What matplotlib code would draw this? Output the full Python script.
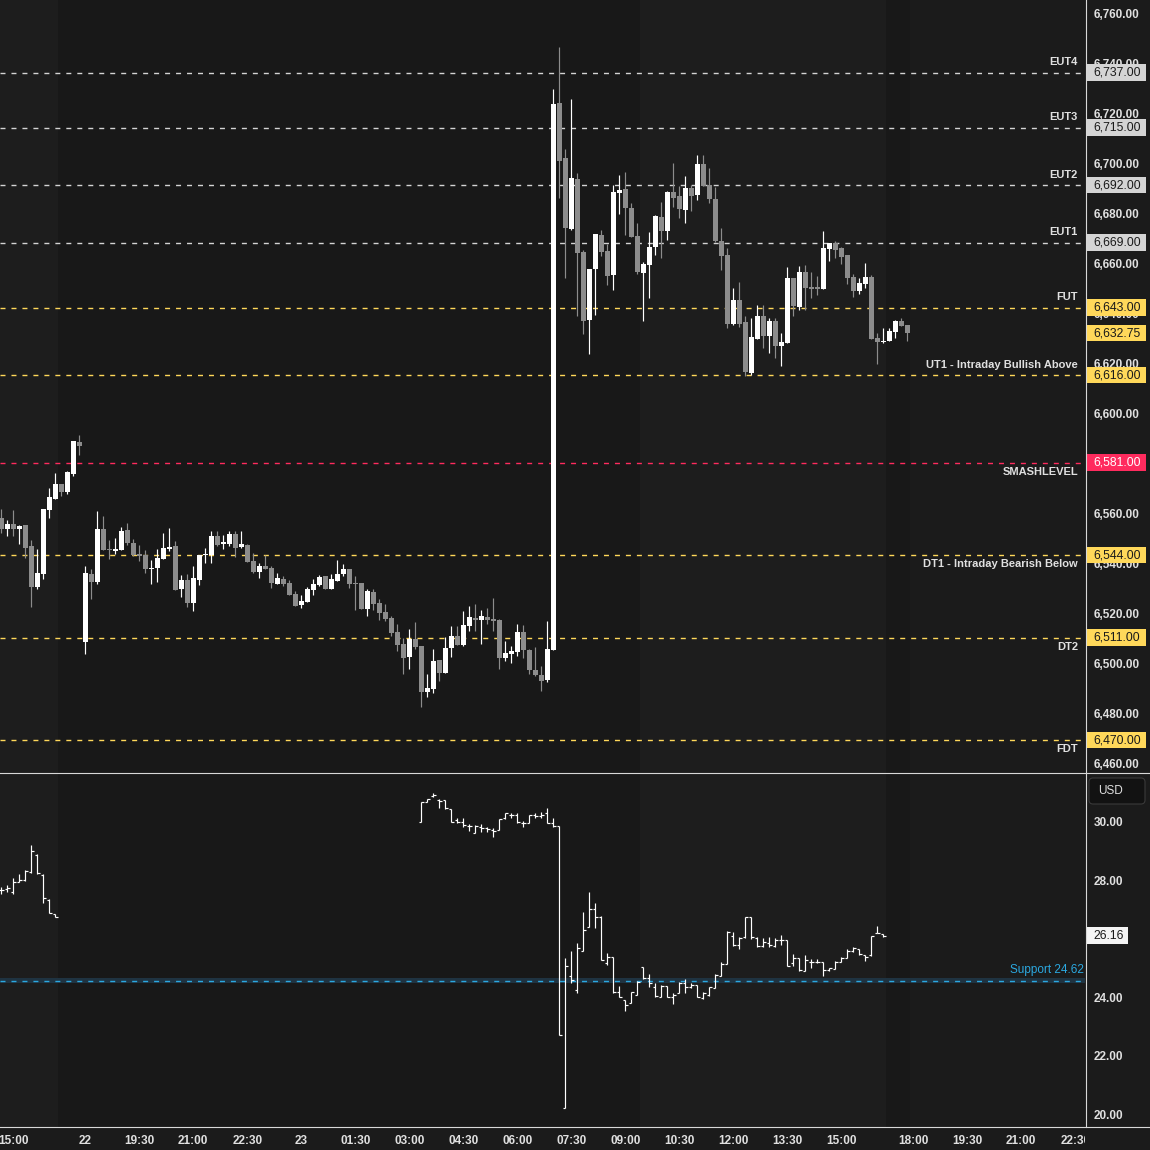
import numpy as np
import matplotlib
matplotlib.use("Agg")
import matplotlib.pyplot as plt
import matplotlib.transforms as mtransforms
from matplotlib.patches import Rectangle, FancyBboxPatch
from matplotlib.lines import Line2D

plt.rcParams['font.family'] = ['Liberation Sans', 'DejaVu Sans']
plt.rcParams['lines.scale_dashes'] = False

# ---- ES 10 minute candles (bar 0 = 18:00 session open) ----
es_open = [6558.8, 6554.5, 6556.4, 6554.5, 6556.0, 6547.6, 6531.3, 6536.5, 6562.1, 6566.5, 6572.4, 6569.3, 6576.5, 6589.2,
           6509.3, 6536.4, 6533.2, 6554.4, 6546.4, 6545.8, 6546.1, 6554.0, 6548.8, 6544.4,
           6544.0, 6538.5, 6538.9, 6542.5, 6546.5, 6547.6, 6530.5, 6534.0, 6524.9, 6534.1,
           6544.1, 6544.1, 6551.6, 6548.6, 6548.5, 6552.4, 6547.3, 6548.0, 6541.6, 6537.3,
           6539.6, 6538.8, 6532.5, 6534.4, 6532.8, 6528.4, 6524.0, 6525.3, 6530.1, 6532.1,
           6535.6, 6530.5, 6533.7, 6536.5, 6538.4, 6532.8, 6532.8, 6522.5, 6529.2, 6524.8,
           6521.2, 6518.8, 6513.2, 6508.4, 6503.2, 6510.4, 6507.6, 6489.2, 6490.4, 6502.0,
           6496.8, 6506.8, 6511.6, 6508.0, 6515.6, 6518.8, 6518.0, 6519.2, 6518.4, 6518.0,
           6502.8, 6504.4, 6505.2, 6513.2, 6506.0, 6498.0, 6496.0, 6494.0, 6506.0, 6724.8,
           6702.8, 6674.4, 6694.4, 6665.2, 6638.1, 6658.5, 6672.0, 6665.6, 6656.1, 6688.9,
           6690.4, 6682.8, 6671.6, 6656.9, 6660.1, 6667.3, 6679.2, 6673.7, 6689.2, 6687.6,
           6682.1, 6690.8, 6688.1, 6700.4, 6692.0, 6686.4, 6669.6, 6664.0, 6636.5, 6646.0,
           6637.2, 6616.8, 6630.4, 6639.6, 6631.6, 6637.6, 6627.6, 6628.8, 6654.8, 6643.2,
           6657.2, 6650.8, 6650.8, 6650.4, 6666.4, 6668.8, 6666.8, 6664.0, 6655.2, 6649.6,
           6652.4, 6655.2, 6630.8, 6629.2, 6629.6, 6633.2, 6637.6, 6636.0]
es_high = [6562.4, 6558.0, 6562.0, 6556.0, 6556.0, 6550.0, 6546.4, 6562.4, 6570.8, 6576.8, 6572.4, 6577.6, 6589.6, 6592.0,
           6539.6, 6538.4, 6561.6, 6559.6, 6550.0, 6550.8, 6555.2, 6556.8, 6550.4, 6548.0,
           6546.0, 6542.0, 6546.4, 6552.8, 6554.8, 6549.6, 6536.0, 6536.4, 6539.6, 6544.0,
           6546.8, 6553.6, 6553.6, 6552.0, 6553.6, 6553.6, 6553.6, 6548.4, 6544.8, 6540.8,
           6544.0, 6539.6, 6536.8, 6535.6, 6534.0, 6529.6, 6528.0, 6531.2, 6534.4, 6536.0,
           6535.6, 6536.4, 6542.0, 6540.4, 6538.4, 6535.6, 6532.8, 6530.4, 6530.4, 6526.4,
           6524.4, 6519.6, 6516.4, 6510.8, 6514.4, 6517.2, 6507.6, 6496.4, 6506.4, 6502.0,
           6511.2, 6515.6, 6515.6, 6521.6, 6523.6, 6524.4, 6522.0, 6522.8, 6526.8, 6518.4,
           6509.6, 6507.6, 6516.4, 6516.0, 6506.4, 6507.2, 6499.6, 6517.6, 6730.4, 6747.2,
           6706.4, 6726.4, 6696.8, 6666.0, 6658.5, 6672.4, 6674.0, 6668.4, 6692.0, 6696.0,
           6697.2, 6684.8, 6676.8, 6661.2, 6673.2, 6680.0, 6685.2, 6689.6, 6700.8, 6691.6,
           6695.6, 6692.0, 6704.0, 6704.0, 6698.8, 6691.3, 6674.8, 6666.8, 6650.9, 6653.2,
           6639.6, 6638.8, 6644.0, 6644.0, 6638.8, 6638.8, 6632.8, 6659.2, 6654.8, 6659.6,
           6660.0, 6657.2, 6655.6, 6673.6, 6668.8, 6669.6, 6667.2, 6664.0, 6656.4, 6654.8,
           6660.8, 6656.0, 6632.8, 6634.8, 6634.8, 6638.0, 6638.8, 6636.0]
es_low = [6553.0, 6551.7, 6551.7, 6548.5, 6543.0, 6523.3, 6530.5, 6534.5, 6558.9, 6566.5, 6567.7, 6568.5, 6575.7, 6584.1,
          6504.5, 6526.5, 6532.5, 6546.1, 6542.5, 6544.5, 6546.1, 6548.1, 6543.7, 6541.7,
          6536.9, 6532.5, 6533.3, 6542.5, 6545.7, 6530.1, 6527.3, 6523.3, 6521.7, 6532.1,
          6540.9, 6540.9, 6547.6, 6546.5, 6547.7, 6543.3, 6546.9, 6541.3, 6536.9, 6534.9,
          6538.5, 6530.9, 6532.5, 6531.7, 6528.1, 6523.7, 6522.9, 6525.3, 6528.1, 6531.7,
          6530.5, 6530.5, 6533.7, 6535.7, 6530.9, 6522.1, 6522.5, 6519.7, 6522.1, 6518.0,
          6517.6, 6511.6, 6505.6, 6496.4, 6498.4, 6506.4, 6483.2, 6487.2, 6488.8, 6493.6,
          6496.8, 6503.2, 6508.0, 6507.6, 6513.6, 6513.6, 6508.4, 6516.4, 6513.6, 6498.4,
          6501.6, 6500.8, 6503.6, 6502.8, 6496.4, 6495.6, 6489.6, 6493.2, 6506.0, 6686.9,
          6654.9, 6674.0, 6639.7, 6632.5, 6624.5, 6640.1, 6663.7, 6652.1, 6650.1, 6680.5,
          6672.1, 6671.3, 6656.5, 6637.7, 6646.9, 6664.1, 6662.9, 6670.1, 6683.3, 6678.9,
          6676.9, 6681.7, 6686.1, 6691.7, 6684.9, 6669.3, 6658.1, 6634.9, 6636.1, 6635.3,
          6615.6, 6616.0, 6630.4, 6626.8, 6624.8, 6622.8, 6619.6, 6628.8, 6639.6, 6642.0,
          6642.0, 6646.8, 6648.0, 6650.4, 6661.6, 6662.8, 6660.4, 6652.4, 6647.2, 6648.4,
          6650.8, 6630.4, 6620.4, 6628.8, 6629.6, 6630.8, 6635.6, 6629.6]
es_close = [6554.5, 6556.4, 6554.5, 6555.6, 6546.9, 6531.3, 6536.8, 6562.4, 6567.2, 6572.4, 6569.3, 6577.2, 6589.6, 6587.7,
            6536.8, 6533.2, 6554.4, 6546.1, 6546.1, 6546.0, 6553.6, 6549.0, 6544.1, 6543.6,
            6538.5, 6538.8, 6542.8, 6546.8, 6547.2, 6530.1, 6534.0, 6524.9, 6534.8, 6544.0,
            6544.4, 6551.6, 6548.1, 6548.8, 6552.4, 6546.9, 6548.4, 6541.3, 6537.3, 6539.6,
            6538.5, 6532.9, 6534.8, 6532.5, 6528.1, 6523.7, 6525.6, 6530.4, 6532.4, 6535.2,
            6530.5, 6534.4, 6536.4, 6538.4, 6532.5, 6532.5, 6522.5, 6529.6, 6524.5, 6520.9,
            6518.4, 6512.8, 6508.0, 6502.8, 6510.4, 6507.2, 6489.2, 6490.8, 6501.6, 6496.8,
            6506.8, 6511.6, 6508.0, 6516.0, 6519.2, 6518.0, 6519.6, 6518.0, 6517.6, 6502.8,
            6504.8, 6505.6, 6513.2, 6506.0, 6498.0, 6496.0, 6493.6, 6506.4, 6724.4, 6701.7,
            6674.9, 6694.8, 6664.9, 6637.7, 6658.5, 6672.4, 6665.3, 6655.7, 6689.2, 6690.0,
            6682.9, 6671.3, 6657.3, 6660.4, 6667.2, 6679.6, 6673.7, 6689.2, 6686.9, 6682.5,
            6690.8, 6687.7, 6700.4, 6691.7, 6686.5, 6669.7, 6663.7, 6636.5, 6646.0, 6636.5,
            6617.2, 6631.2, 6639.6, 6631.6, 6637.6, 6627.6, 6629.2, 6654.8, 6643.6, 6657.2,
            6650.8, 6650.6, 6650.6, 6666.8, 6668.8, 6666.0, 6663.2, 6654.8, 6649.6, 6652.8,
            6655.2, 6630.4, 6629.2, 6629.6, 6633.6, 6637.6, 6635.6, 6632.75]
es_first_bar = -14

# ---- VIX OHLC bars (cash session only) ----
vix_bars = list(range(-14, -4)) + list(range(56, 134))
vix_open = [27.71, 27.74, 27.66, 28.00, 28.05, 28.34, 28.91, 28.23, 27.37, 26.88,
            30.02, 30.73, 30.92, 30.78, 30.78, 30.47, 30.10, 30.05, 29.91, 29.67,
            29.87, 29.82, 29.76, 29.76, 30.16, 30.27, 30.27, 29.99, 30.01, 30.27,
            30.24, 30.33, 30.01, 29.90, 20.26, 24.78, 24.30, 25.64, 26.44, 27.06,
            26.80, 25.23, 25.44, 24.22, 23.96, 23.87, 24.13, 25.07, 24.70, 24.41,
            24.07, 24.44, 24.07, 24.19, 24.53, 24.41, 24.47, 24.02, 24.13, 24.36,
            24.78, 25.18, 26.14, 25.84, 26.10, 26.78, 26.06, 25.80, 25.89, 25.80,
            26.01, 26.01, 25.21, 25.38, 24.95, 25.27, 25.27, 25.27, 24.98, 25.03,
            25.27, 25.38, 25.64, 25.69, 25.50, 25.50, 26.26, 26.21]
vix_high = [27.80, 27.88, 28.11, 28.25, 28.40, 29.25, 28.94, 28.25, 27.41, 26.88,
            30.73, 30.82, 31.01, 30.82, 30.78, 30.47, 30.16, 30.16, 29.97, 29.93,
            29.95, 29.87, 29.82, 30.13, 30.33, 30.33, 30.33, 30.08, 30.27, 30.35,
            30.39, 30.50, 30.16, 29.90, 25.38, 25.63, 25.89, 26.95, 27.63, 27.26,
            26.83, 25.55, 25.44, 24.44, 23.96, 24.22, 24.62, 25.07, 24.85, 24.55,
            24.47, 24.44, 24.19, 24.58, 24.68, 24.55, 24.47, 24.22, 24.41, 24.84,
            25.27, 26.31, 26.29, 26.10, 26.78, 26.78, 26.10, 26.06, 26.10, 26.06,
            26.18, 26.01, 25.52, 25.38, 25.50, 25.35, 25.35, 25.27, 25.06, 25.29,
            25.42, 25.69, 25.76, 25.69, 25.50, 26.14, 26.48, 26.21]
vix_low = [27.58, 27.66, 27.57, 28.00, 28.03, 28.28, 28.25, 27.26, 26.92, 26.80,
           30.02, 30.73, 30.88, 30.50, 30.47, 30.02, 30.01, 29.87, 29.74, 29.67,
           29.70, 29.70, 29.53, 29.76, 30.13, 30.16, 30.01, 29.85, 29.99, 30.18,
           30.16, 29.99, 29.87, 22.78, 20.26, 24.53, 24.21, 25.64, 26.44, 26.40,
           25.32, 25.15, 24.21, 24.05, 23.60, 23.87, 24.13, 24.68, 24.41, 24.07,
           24.07, 24.05, 23.82, 24.19, 24.19, 24.36, 24.05, 23.98, 24.11, 24.36,
           24.78, 25.18, 25.80, 25.69, 26.06, 26.03, 25.76, 25.76, 25.76, 25.76,
           25.84, 25.12, 25.12, 24.96, 24.95, 25.06, 25.21, 24.79, 24.96, 25.03,
           25.27, 25.38, 25.61, 25.50, 25.30, 25.46, 26.26, 26.10]
vix_close = [27.71, 27.77, 28.00, 28.05, 28.37, 29.06, 28.28, 27.43, 26.94, 26.80,
             30.73, 30.81, 30.96, 30.76, 30.50, 30.05, 30.05, 29.93, 29.91, 29.91,
             29.82, 29.78, 29.74, 30.13, 30.33, 30.27, 30.05, 29.99, 30.27, 30.24,
             30.27, 30.01, 29.90, 22.78, 25.12, 24.64, 25.72, 26.35, 27.06, 26.78,
             25.32, 25.44, 24.24, 24.05, 23.79, 24.22, 24.58, 24.70, 24.53, 24.10,
             24.44, 24.07, 24.13, 24.53, 24.41, 24.47, 24.07, 24.19, 24.39, 24.81,
             25.18, 26.29, 25.84, 26.06, 26.78, 26.10, 25.80, 25.95, 25.84, 26.01,
             26.01, 25.12, 25.38, 24.98, 25.32, 25.27, 25.27, 24.98, 25.04, 25.27,
             25.38, 25.64, 25.72, 25.52, 25.44, 26.14, 26.26, 26.16]

# key levels
level_values = [6737, 6715, 6692, 6669, 6643, 6616, 6581, 6544, 6511, 6470]
level_names = ['EUT4', 'EUT3', 'EUT2', 'EUT1', 'FUT', 'UT1 - Intraday Bullish Above',
               'SMASHLEVEL', 'DT1 - Intraday Bearish Below', 'DT2', 'FDT']
es_last = 6632.75
vix_support = 24.62
vix_last = 26.16

price_ticks = list(range(6460, 6761, 20))
vix_ticks = [20, 22, 24, 26, 28, 30]

time_bars = [-12, 0, 9, 18, 27, 36, 45, 54, 63, 72, 81, 90, 99, 108, 117, 126, 138, 147, 156, 165]
time_labels = ['15:00', '22', '19:30', '21:00', '22:30', '23', '01:30', '03:00', '04:30', '06:00',
               '07:30', '09:00', '10:30', '12:00', '13:30', '15:00', '18:00', '19:30', '21:00', '22:30']

# session boundaries in bar units (regular hours 09:30-16:15, data ends 17:00)
rth_sessions = [(-20, -4.5), (92.5, 133.5)]
data_end = 137.5

# ---- style ----
FW = FH = 1150
BG = '#1b1b1b'
OFF = '#181818'
RTH = '#1d1d1d'
TXT = '#e0e0e0'
UP, DN = '#ffffff', '#8c8c8c'
SEP = '#d8d8d8'
EXT_C = '#d4d4d4'
YEL = '#ffd85a'
RED = '#ff2b5e'
BLUE = '#2ba8e0'
DASH = (3.6, 4.3)
FS = 8.5
FWT = 'bold'

fig = plt.figure(figsize=(FW / 100, FH / 100), dpi=100, facecolor=BG)


def px_axes(x0, y0, x1, y1):
    return fig.add_axes([x0 / FW, 1 - y1 / FH, (x1 - x0) / FW, (y1 - y0) / FH])


PLOT_W = 1085
ax = px_axes(0, 0, PLOT_W, 773)
axv = px_axes(0, 773, PLOT_W, 1127)

bar_px, bar0_px = 6.0, 85.3
xlim = (-bar0_px / bar_px, (PLOT_W - bar0_px) / bar_px)
for a in (ax, axv):
    a.set_xlim(*xlim)
    a.set_facecolor(OFF)
    for s in a.spines.values():
        s.set_visible(False)
    a.tick_params(left=False, bottom=False, labelleft=False, labelbottom=False)
    for s0, s1 in rth_sessions:
        a.axvspan(s0, s1, color=RTH, lw=0, zorder=0)
    a.axvspan(data_end, xlim[1] + 5, color=BG, lw=0, zorder=0)

main_ppu = 2.5     # pixels per point
vix_ppu = 29.3
ax.set_ylim(6760 - (773 - 15) / main_ppu, 6760 + 15 / main_ppu)
axv.set_ylim(30 - (1127 - 823) / vix_ppu, 30 + (823 - 773) / vix_ppu)

# ---- candles ----
o, h, l, c = (np.array(v) for v in (es_open, es_high, es_low, es_close))
bx = np.arange(es_first_bar, es_first_bar + len(o))
cols = np.where(c >= o, UP, DN)
ax.vlines(bx, l, h, colors=cols, lw=0.85, zorder=3)
ax.bar(bx, np.maximum(np.abs(c - o), 0.45), bottom=np.minimum(o, c), width=0.82,
       color=cols, lw=0, zorder=3)

# ---- VIX bars ----
vb = np.array(vix_bars)
axv.vlines(vb, vix_low, vix_high, colors='white', lw=0.85, zorder=3)
axv.hlines(vix_open, vb - 0.45, vb, colors='white', lw=0.85, zorder=3)
axv.hlines(vix_close, vb, vb + 0.45, colors='white', lw=0.85, zorder=3)


def right_labels(a, ticks, fmt):
    tr = mtransforms.blended_transform_factory(a.transAxes, a.transData)
    for v in ticks:
        a.text(1094 / PLOT_W, v, fmt.format(v), transform=tr, ha='left', va='center',
               fontsize=FS, fontweight=FWT, color=TXT, clip_on=False, zorder=4)


def price_box(a, y, label, fc, tc, ppu, w):
    tr = mtransforms.blended_transform_factory(a.transAxes, a.transData)
    a.add_patch(Rectangle((1086 / PLOT_W, y - 8.3 / ppu), w / PLOT_W, 16.6 / ppu,
                          transform=tr, fc=fc, ec='none', clip_on=False, zorder=6))
    a.text(1093 / PLOT_W, y, label, transform=tr, ha='left', va='center',
           fontsize=FS + 0.3, color=tc, clip_on=False, zorder=7)


right_labels(ax, price_ticks, '{:,.2f}')
right_labels(axv, vix_ticks, '{:.2f}')

# ---- levels ----
trm = mtransforms.blended_transform_factory(ax.transAxes, ax.transData)
smash = level_values[level_names.index('SMASHLEVEL')]
for val, name in zip(level_values, level_names):
    if name.startswith('EUT'):
        lc, fc, tc = EXT_C, '#d4d4d4', '#1a1a1a'
    elif name == 'SMASHLEVEL':
        lc, fc, tc = RED, RED, '#ffffff'
    else:
        lc, fc, tc = YEL, YEL, '#1a1a1a'
    ax.axhline(val, color=lc, lw=1.0, dashes=DASH, zorder=2)
    ty = val + 10.5 / main_ppu if val > smash else val - 9 / main_ppu
    ax.text(1078 / PLOT_W, ty, name, transform=trm, ha='right', va='center',
            fontsize=8, fontweight=FWT, color=TXT, zorder=4)
    price_box(ax, val, f'{val:,.2f}', fc, tc, main_ppu, 60)

price_box(ax, es_last, f'{es_last:,.2f}', YEL, '#1a1a1a', main_ppu, 60)

# ---- VIX support ----
trv = mtransforms.blended_transform_factory(axv.transAxes, axv.transData)
axv.axhspan(vix_support - 2.2 / vix_ppu, vix_support + 2.2 / vix_ppu, color='#1f3341', lw=0, zorder=1)
axv.axhline(vix_support, color=BLUE, lw=1.0, dashes=DASH, zorder=2)
axv.text(1 - 1 / PLOT_W, vix_support + 11 / vix_ppu, f'Support {vix_support:.2f}', transform=trv,
         ha='right', va='center', fontsize=8.5, color=BLUE, zorder=4)
price_box(axv, vix_last, f'{vix_last:.2f}', '#f4f4f4', '#1a1a1a', vix_ppu, 42)

# USD badge
fig.add_artist(FancyBboxPatch((1089 / FW, 1 - 804 / FH), 56 / FW, 26 / FH,
                              boxstyle=f'round,pad=0,rounding_size={4 / FW}',
                              transform=fig.transFigure, fc='#121212', ec='#3a3a3a', lw=0.8))
fig.text(1098 / FW, 1 - 791 / FH, 'USD', ha='left', va='center', fontsize=FS, color=TXT)

# ---- time axis ----
clip = Rectangle((0, 0), PLOT_W / FW, 1, transform=fig.transFigure)
trt = mtransforms.blended_transform_factory(axv.transData, axv.transAxes)
for tb, tl in zip(time_bars, time_labels):
    t = axv.text(tb, -14.5 / 354, tl, transform=trt, ha='center', va='center',
                 fontsize=FS, fontweight=FWT, color=TXT, clip_on=True)
    t.set_clip_path(clip)

# separators
for y in (773, 1127):
    fig.add_artist(Line2D([0, 1], [1 - y / FH] * 2, transform=fig.transFigure, color=SEP, lw=0.8))
fig.add_artist(Line2D([(PLOT_W + 0.5) / FW] * 2, [1 - 1127 / FH, 1], transform=fig.transFigure,
                      color=SEP, lw=0.8))

fig.savefig('out.png', dpi=100, facecolor=BG)
